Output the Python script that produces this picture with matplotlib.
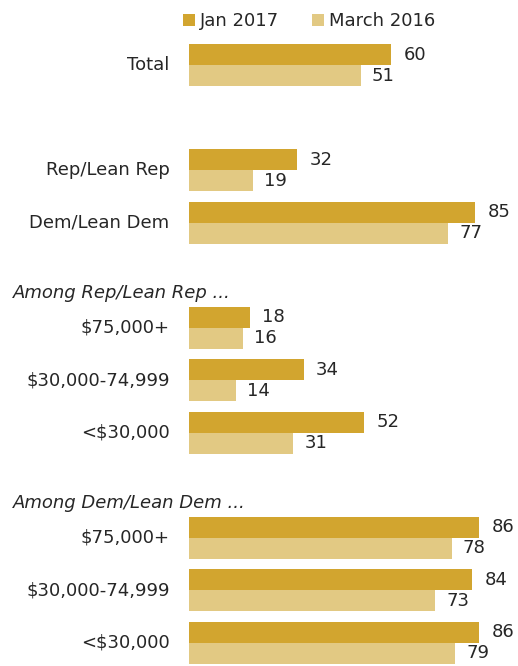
"""Horizontal paired bars: Jan 2017 vs March 2016 by party and income."""

import matplotlib.pyplot as plt
import matplotlib.transforms as mtransforms

plt.rcParams["font.family"] = ["DejaVu Sans"]
plt.rcParams["text.parse_math"] = False

# Sections: header text and row labels
section_headers = ["", "", "Among Rep/Lean Rep ...", "Among Dem/Lean Dem ..."]
section_rows = [
    ["Total"],
    ["Rep/Lean Rep", "Dem/Lean Dem"],
    ["$75,000+", "$30,000-74,999", "<$30,000"],
    ["$75,000+", "$30,000-74,999", "<$30,000"],
]
jan_2017 = [60, 32, 85, 18, 34, 52, 86, 84, 86]
march_2016 = [51, 19, 77, 16, 14, 31, 78, 73, 79]

DARK = "#D2A52F"
LIGHT = "#E2C983"
TEXT = "#262626"
FS = 13

# one empty slot between sections
labels, slots, header_slots = [], [], []
pos = 0
for header, rows in zip(section_headers, section_rows):
    header_slots.append(pos)
    for name in rows:
        labels.append(name)
        slots.append(pos)
        pos += 1
    pos += 1

W, H = 518, 666
fig = plt.figure(figsize=(W / 100, H / 100), dpi=100)
x0 = 189
ax = fig.add_axes([x0 / W, 0, 1 - x0 / W, 1])
px_per_unit = 3.37
ax.set_xlim(0, (W - x0) / px_per_unit)
pitch, first_center = 52.5, 65.3
ax.set_ylim((H - first_center) / pitch, -first_center / pitch)
ax.axis("off")

h = 0.4
dark_y = [s - h / 2 for s in slots]
light_y = [s + h / 2 for s in slots]
b1 = ax.barh(dark_y, jan_2017, height=h, color=DARK, label="Jan 2017")
b2 = ax.barh(light_y, march_2016, height=h, color=LIGHT, label="March 2016")

for y, v in zip(dark_y, jan_2017):
    ax.annotate(str(v), (v, y), xytext=(9, 0), textcoords="offset points",
                ha="left", va="center", fontsize=FS, color=TEXT)
for y, v in zip(light_y, march_2016):
    ax.annotate(str(v), (v, y), xytext=(8, 0), textcoords="offset points",
                ha="left", va="center", fontsize=FS, color=TEXT)

for name, s in zip(labels, slots):
    ax.annotate(name, (0, s), xytext=(-14, 0), textcoords="offset points",
                ha="right", va="center", fontsize=FS, color=TEXT,
                annotation_clip=False)

trans = mtransforms.blended_transform_factory(fig.transFigure, ax.transData)
for header, s in zip(section_headers, header_slots):
    if header:
        ax.text(13 / W, s - 0.66, header, transform=trans, ha="left",
                va="center", fontsize=FS, style="italic", color=TEXT)

fig.legend(handles=[b1, b2], loc="center left",
           bbox_to_anchor=(183 / W, 1 - 21 / H), ncol=2, frameon=False,
           fontsize=FS, handlelength=0.65, handleheight=0.65,
           handletextpad=0.3, columnspacing=1.8, borderpad=0,
           borderaxespad=0, labelcolor=TEXT)

fig.savefig("out.png", dpi=100)
